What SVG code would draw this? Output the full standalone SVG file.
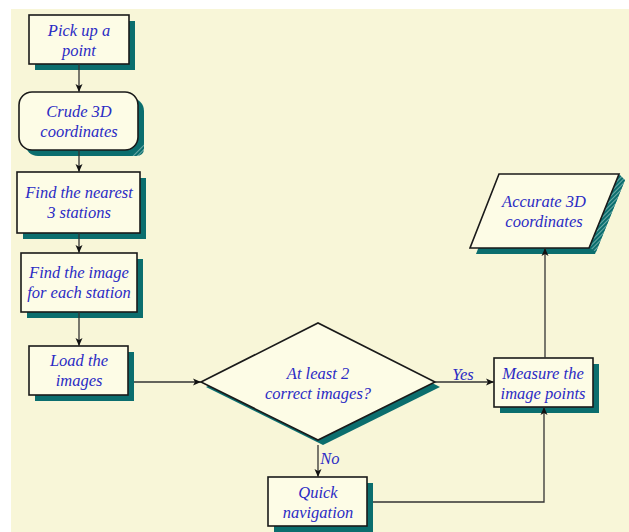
<svg xmlns="http://www.w3.org/2000/svg" width="629" height="532" viewBox="0 0 629 532">
<defs>
<style>
.node{fill:#FDFCE6;stroke:#1a1a1a;stroke-width:1.6}
.shadow{fill:#0B6E6E}
.lbl{font-family:"Liberation Serif","DejaVu Serif",serif;font-style:italic;font-size:16.5px;fill:#2B2BC4;text-anchor:middle}
.edge{fill:none;stroke:#333;stroke-width:1.3}
</style>
<marker id="ah" viewBox="0 0 8 8" refX="8" refY="4" markerWidth="8" markerHeight="8" markerUnits="userSpaceOnUse" orient="auto">
<path d="M0,0.5 L8,4 L0,7.5 L2,4 z" fill="#111"/>
</marker>
<pattern id="hatch" width="3" height="3" patternUnits="userSpaceOnUse" patternTransform="rotate(45)">
<rect width="3" height="3" fill="#0B6E6E"/>
<line x1="0" y1="0" x2="0" y2="3" stroke="#cfe6e0" stroke-width="1"/>
</pattern>
</defs>
<rect x="0" y="0" width="629" height="532" fill="#ffffff"/>
<rect x="11" y="9" width="618" height="523" fill="#F8F6D8"/>

<g id="pick">
<rect class="shadow" x="35" y="21" width="100" height="49"/>
<rect class="node" x="29" y="15" width="100" height="49"/>
<text class="lbl" x="79" y="36">Pick up a</text>
<text class="lbl" x="79" y="56">point</text>
</g>

<g id="crude">
<rect class="shadow" x="25" y="98" width="119" height="58" rx="13"/>
<path d="M131,156 L144,143 L144,148 Q144,156 136,156 z" fill="url(#hatch)"/>
<rect class="node" x="19" y="92" width="119" height="58" rx="13"/>
<text class="lbl" x="79" y="117">Crude 3D</text>
<text class="lbl" x="79" y="137">coordinates</text>
</g>

<g id="nearest">
<rect class="shadow" x="23" y="178" width="123" height="61"/>
<rect class="node" x="17" y="172" width="123" height="61"/>
<text class="lbl" x="79" y="198">Find the nearest</text>
<text class="lbl" x="79" y="218">3 stations</text>
</g>

<g id="findimage">
<rect class="shadow" x="27" y="259" width="116" height="59"/>
<rect class="node" x="21" y="253" width="116" height="59"/>
<text class="lbl" x="79" y="278">Find the image</text>
<text class="lbl" x="79" y="298">for each station</text>
</g>

<g id="load">
<rect class="shadow" x="35" y="352" width="99" height="49"/>
<rect class="node" x="29" y="346" width="99" height="49"/>
<text class="lbl" x="79" y="366">Load the</text>
<text class="lbl" x="79" y="386">images</text>
</g>

<g id="decision">
<polygon class="shadow" points="206,387 323,328 440,387 323,445"/>
<polygon class="node" points="201,382 318,323 435,382 318,440"/>
<text class="lbl" x="318" y="379">At least 2</text>
<text class="lbl" x="318" y="399">correct images?</text>
</g>

<g id="measure">
<rect class="shadow" x="500" y="364" width="99" height="49"/>
<rect class="node" x="494" y="358" width="99" height="49"/>
<text class="lbl" x="543" y="379">Measure the</text>
<text class="lbl" x="543" y="399">image points</text>
</g>

<g id="accurate">
<polygon class="shadow" points="505,180 625,180 595,254 476,254"/>
<polygon points="619,174 625,180 596,252 590,248" fill="url(#hatch)"/>
<polygon class="node" points="499,174 619,174 589,248 470,248"/>
<text class="lbl" x="544" y="207">Accurate 3D</text>
<text class="lbl" x="544" y="227">coordinates</text>
</g>

<g id="quicknav">
<rect class="shadow" x="274" y="483" width="99" height="49"/>
<rect class="node" x="268" y="477" width="99" height="49"/>
<text class="lbl" x="318" y="498">Quick</text>
<text class="lbl" x="318" y="518">navigation</text>
</g>

<g id="connectors">
<line class="edge" x1="79" y1="64" x2="79" y2="92" marker-end="url(#ah)"/>
<line class="edge" x1="79" y1="150" x2="79" y2="172" marker-end="url(#ah)"/>
<line class="edge" x1="79" y1="233" x2="79" y2="253" marker-end="url(#ah)"/>
<line class="edge" x1="79" y1="312" x2="79" y2="346" marker-end="url(#ah)"/>
<line class="edge" x1="134" y1="382" x2="201" y2="382" marker-end="url(#ah)"/>
<line class="edge" x1="435" y1="382" x2="494" y2="382" marker-end="url(#ah)"/>
<line class="edge" x1="318" y1="445" x2="318" y2="477" marker-end="url(#ah)"/>
<polyline class="edge" points="373,502 544,502 544,407" marker-end="url(#ah)"/>
<line class="edge" x1="545" y1="358" x2="545" y2="248" marker-end="url(#ah)"/>
<text class="lbl" x="463" y="380">Yes</text>
<text class="lbl" x="330" y="464">No</text>
</g>
</svg>
